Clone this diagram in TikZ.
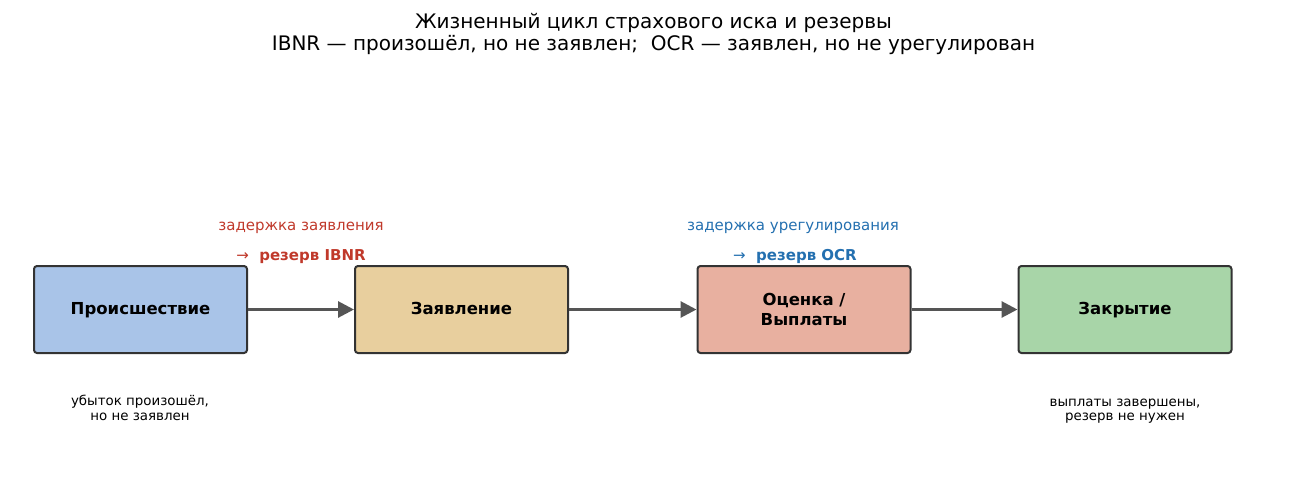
\documentclass[tikz,border=0pt]{standalone}
\usepackage{fontspec}
\setmainfont{DejaVu Sans}
\usetikzlibrary{arrows.meta}
\definecolor{cA}{HTML}{A9C4E8}
\definecolor{cB}{HTML}{E8CF9E}
\definecolor{cC}{HTML}{E8B0A0}
\definecolor{cD}{HTML}{A8D5A8}
\definecolor{edge}{HTML}{333333}
\definecolor{arr}{HTML}{555555}
\definecolor{redt}{HTML}{C0392B}
\definecolor{bluet}{HTML}{2470B0}
\tikzset{
  stage/.style={draw=edge, line width=2pt, rounded corners=3pt, minimum width=213pt, minimum height=87pt, align=center, font=\fontsize{16.5}{19.5}\selectfont\bfseries, inner sep=0pt},
  oneline/.style={text height=0.95em, text depth=0pt},
  flow/.style={draw=arr, line width=3pt, -{Triangle[length=16pt,width=16pt]}},
  note/.style={font=\fontsize{13.4}{14.5}\selectfont, align=center},
  delay/.style={font=\fontsize{15}{17}\selectfont, text height=0.76em, text depth=0.24em},
  res/.style={font=\fontsize{15}{17}\selectfont\bfseries, text height=0.76em, text depth=0.24em},
}
\begin{document}
\begin{tikzpicture}[x=1pt,y=-1pt]
\useasboundingbox (0,0) rectangle (1307,499);
\node[font=\fontsize{20}{22}\selectfont, align=center] (title) at (653.5,34) {Жизненный цикл страхового иска и резервы\\IBNR — произошёл, но не заявлен;\ \ OCR — заявлен, но не урегулирован};
\node[stage, oneline, fill=cA] (n1) at (140.5,309.5) {Происшествие};
\node[stage, oneline, fill=cB] (n2) at (461.5,309.5) {Заявление};
\node[stage, fill=cC] (n3) at (804,309.5) {Оценка /\\Выплаты};
\node[stage, oneline, fill=cD] (n4) at (1125,309.5) {Закрытие};
\draw[flow] (n1) -- (n2);
\draw[flow] (n2) -- (n3);
\draw[flow] (n3) -- (n4);
\node[delay, text=redt] (d1) at (301,227.5) {задержка заявления};
\node[res, text=redt] (r1) at (301,257.5) {{\mdseries→}\ \ резерв IBNR};
\node[delay, text=bluet] (d2) at (793,227.5) {задержка урегулирования};
\node[res, text=bluet] (r2) at (795,257.5) {{\mdseries→}\ \ резерв OCR};
\node[note] (t1) at (140,408) {убыток произошёл,\\но не заявлен};
\node[note] (t4) at (1125,411) {выплаты завершены,\\резерв не нужен};
\end{tikzpicture}
\end{document}
